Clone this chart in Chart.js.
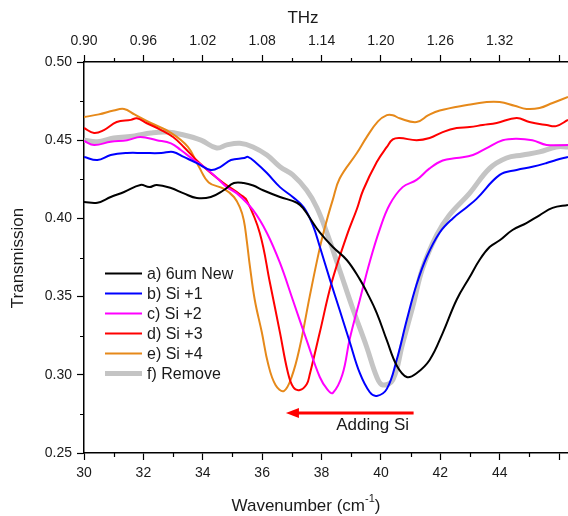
<!DOCTYPE html>
<html>
<head>
<meta charset="utf-8">
<script src="https://cdn.jsdelivr.net/npm/chart.js@4.4.1/dist/chart.umd.min.js"></script>
<style>
  html, body { margin: 0; padding: 0; background: #fff; }
  #wrap { width: 568px; height: 516px; }
</style>
</head>
<body>
<div id="wrap"><canvas id="chart" width="568" height="516"></canvas></div>
<script>
"use strict";

// tick values
var wavenumberTicks = [30, 31, 32, 33, 34, 35, 36, 37, 38, 39, 40, 41, 42, 43, 44, 45, 46];
var transmissionTicks = [0.25, 0.275, 0.30, 0.325, 0.35, 0.375, 0.40, 0.425, 0.45, 0.475, 0.50];
var thzTicks = [0.90, 0.93, 0.96, 0.99, 1.02, 1.05, 1.08, 1.11, 1.14, 1.17, 1.20, 1.23, 1.26, 1.29, 1.32, 1.35, 1.38];

var seriesLabels = ['a) 6um New', 'b) Si +1', 'c) Si +2', 'd) Si +3', 'e) Si +4', 'f) Remove'];

// a) 6um New
var blackX = [30, 30.45, 30.9, 31.35, 31.9, 32.2, 32.45, 32.93, 33.36, 33.8, 34.27, 34.7, 35.05, 35.38, 35.7, 36.03, 36.6, 37.17, 37.4, 37.65, 37.94, 38.38, 38.85, 39.29, 39.52, 39.86, 40.2, 40.53, 40.87, 41.2, 41.64, 42.08, 42.55, 42.99, 43.32, 43.66, 44.0, 44.43, 44.9, 45.34, 45.78, 46.3];
var blackY = [0.4105, 0.410, 0.4137, 0.4169, 0.4214, 0.420, 0.4214, 0.4194, 0.416, 0.413, 0.4137, 0.418, 0.4226, 0.4226, 0.421, 0.418, 0.4137, 0.410, 0.406, 0.399, 0.391, 0.3817, 0.3734, 0.361, 0.353, 0.3395, 0.322, 0.306, 0.2986, 0.301, 0.3095, 0.3267, 0.348, 0.3625, 0.3734, 0.3817, 0.386, 0.3926, 0.397, 0.402, 0.4067, 0.4086];

// b) Si +1
var blueX = [30, 30.45, 30.9, 31.45, 32.0, 32.6, 33.0, 33.36, 33.8, 34.27, 34.6, 34.95, 35.4, 35.52, 35.8, 36.16, 36.6, 37.03, 37.4, 37.7, 37.94, 38.28, 38.61, 38.95, 39.29, 39.62, 39.86, 40.2, 40.53, 40.87, 41.2, 41.54, 41.98, 42.42, 42.9, 43.22, 44.0, 44.57, 45.1, 45.58, 45.9, 46.3];
var blueY = [0.4393, 0.4373, 0.4405, 0.4418, 0.4418, 0.4418, 0.4425, 0.4393, 0.4354, 0.431, 0.433, 0.4373, 0.4386, 0.4393, 0.4354, 0.429, 0.420, 0.4137, 0.407, 0.396, 0.382, 0.361, 0.3414, 0.321, 0.301, 0.289, 0.2865, 0.291, 0.3095, 0.335, 0.3577, 0.3753, 0.391, 0.400, 0.4073, 0.4125, 0.4278, 0.431, 0.433, 0.4354, 0.4373, 0.4393];

// c) Si +2
var magentaX = [30, 30.34, 30.9, 31.45, 31.9, 32.45, 32.93, 33.26, 33.7, 34.04, 34.47, 34.81, 35.15, 35.69, 36.16, 36.6, 37.03, 37.5, 37.94, 38.2, 38.38, 38.7, 38.95, 39.29, 39.62, 39.96, 40.3, 40.73, 41.2, 41.64, 42.08, 42.55, 43.1, 43.56, 44.1, 44.57, 45.1, 45.58, 46.3];
var magentaY = [0.4495, 0.447, 0.449, 0.450, 0.452, 0.450, 0.448, 0.4437, 0.4373, 0.433, 0.426, 0.420, 0.416, 0.4054, 0.3907, 0.3715, 0.348, 0.322, 0.2986, 0.2905, 0.2884, 0.300, 0.323, 0.348, 0.372, 0.393, 0.409, 0.420, 0.4246, 0.432, 0.437, 0.4386, 0.4405, 0.445, 0.450, 0.451, 0.450, 0.447, 0.447];

// d) Si +3
var redX = [30, 30.34, 30.67, 31.1, 31.58, 31.78, 32.1, 32.6, 33.0, 33.36, 33.8, 34.27, 34.7, 35.28, 35.48, 35.92, 36.26, 36.6, 36.86, 37.05, 37.27, 37.5, 37.6, 37.94, 38.34, 38.85, 39.19, 39.4, 39.86, 40.2, 40.4, 40.63, 41.2, 41.64, 42.08, 42.55, 42.99, 43.43, 43.9, 44.57, 45.0, 45.58, 45.9, 46.3];
var redY = [0.4578, 0.4546, 0.4565, 0.4616, 0.463, 0.464, 0.461, 0.4565, 0.452, 0.4457, 0.437, 0.429, 0.4226, 0.415, 0.4115, 0.3907, 0.359, 0.327, 0.302, 0.292, 0.2903, 0.294, 0.300, 0.327, 0.359, 0.389, 0.406, 0.418, 0.436, 0.4457, 0.4505, 0.4514, 0.450, 0.4514, 0.4552, 0.4578, 0.4584, 0.4597, 0.461, 0.4642, 0.4616, 0.4597, 0.459, 0.463];

// e) Si +4
var orangeX = [30, 30.5, 31.0, 31.35, 31.7, 32.25, 32.9, 33.5, 33.87, 34.2, 34.7, 35.05, 35.25, 35.38, 35.48, 35.59, 35.75, 35.99, 36.2, 36.45, 36.73, 37.0, 37.27, 37.6, 37.94, 38.18, 38.38, 38.61, 39.19, 39.52, 39.9, 40.2, 40.4, 40.63, 41.2, 41.6, 41.98, 42.9, 43.56, 44.0, 44.5, 44.9, 45.34, 45.78, 46.3];
var orangeY = [0.4648, 0.4665, 0.469, 0.470, 0.4665, 0.461, 0.455, 0.4457, 0.433, 0.423, 0.419, 0.4137, 0.407, 0.399, 0.386, 0.369, 0.348, 0.327, 0.307, 0.2935, 0.2896, 0.299, 0.318, 0.350, 0.381, 0.399, 0.412, 0.4255, 0.4418, 0.452, 0.462, 0.466, 0.466, 0.464, 0.4616, 0.466, 0.469, 0.4725, 0.4744, 0.4744, 0.472, 0.470, 0.4706, 0.4738, 0.4776];

// f) Remove
var grayX = [30, 30.45, 31.0, 31.7, 32.25, 32.8, 33.36, 33.94, 34.47, 34.81, 35.25, 35.69, 36.16, 36.6, 37.03, 37.5, 37.84, 38.18, 38.61, 39.05, 39.52, 39.86, 40.06, 40.4, 40.73, 41.07, 41.4, 41.88, 42.3, 42.99, 43.66, 44.23, 44.77, 45.34, 45.9, 46.3];
var grayY = [0.450, 0.449, 0.4514, 0.4527, 0.4546, 0.4552, 0.4533, 0.450, 0.445, 0.447, 0.448, 0.4457, 0.4405, 0.433, 0.4278, 0.418, 0.407, 0.3907, 0.367, 0.3424, 0.3178, 0.2986, 0.2935, 0.2967, 0.320, 0.3434, 0.368, 0.3895, 0.402, 0.4162, 0.432, 0.4386, 0.4405, 0.4425, 0.4457, 0.4457];

// arrow annotation (wavenumber, transmission)
var arrowFrom = 41.1, arrowTo = 36.8, arrowY = 0.2756;
var noteText = 'Adding Si', noteX = 39.72, noteY = 0.268;

var xMin = 30, xMax = 46.3;
var thzAt30 = 0.90, thzPerCm = 0.03;

var FONT = '"Liberation Sans", Arial, sans-serif';
var TXT = '#1a1a1a';

function pts(xs, ys) {
    return xs.map(function (x, i) { return { x: x, y: ys[i] }; });
}

function isMajorX(v) { return Math.round(v) % 2 === 0; }
function isMajorY(v) { return Math.round(v * 1000) % 50 === 0; }
function isMajorThz(v) { return Math.round((v - thzAt30) / 0.03) % 2 === 0; }

var seriesData = [pts(blackX, blackY), pts(blueX, blueY), pts(magentaX, magentaY),
                  pts(redX, redY), pts(orangeX, orangeY), pts(grayX, grayY)];
var seriesColors = ['#000000', '#0000ff', '#ff00ff', '#ff0000', '#e6891a', '#c4c4c4'];
var seriesWidths = [2, 2, 2, 2, 2, 5];

var datasets = seriesLabels.map(function (lab, i) {
    return {
        label: lab,
        data: seriesData[i],
        borderColor: seriesColors[i],
        backgroundColor: seriesColors[i],
        borderWidth: seriesWidths[i],
        pointRadius: 0,
        fill: false,
        tension: 0.4
    };
});

var decor = {
    id: 'decor',
    afterDraw: function (chart) {
        var ctx = chart.ctx;
        var xs = chart.scales.x, ys = chart.scales.y, ts = chart.scales.x2;
        var area = chart.chartArea;
        ctx.save();

        // minor ticks
        ctx.strokeStyle = '#000';
        ctx.lineWidth = 1.2;
        ctx.beginPath();
        wavenumberTicks.forEach(function (v) {
            if (isMajorX(v)) return;
            var px = Math.round(xs.getPixelForValue(v)) + 0.5;
            ctx.moveTo(px, area.bottom); ctx.lineTo(px, area.bottom + 4);
        });
        thzTicks.forEach(function (v) {
            if (isMajorThz(v)) return;
            var px = Math.round(ts.getPixelForValue(v)) + 0.5;
            ctx.moveTo(px, area.top); ctx.lineTo(px, area.top - 4);
        });
        transmissionTicks.forEach(function (v) {
            if (isMajorY(v)) return;
            var py = Math.round(ys.getPixelForValue(v)) + 0.5;
            ctx.moveTo(area.left, py); ctx.lineTo(area.left - 4, py);
        });
        ctx.stroke();

        // legend inside the plot
        ctx.font = '16px ' + FONT;
        ctx.textBaseline = 'middle';
        ctx.textAlign = 'left';
        seriesLabels.forEach(function (lab, i) {
            var y = 273.5 + i * 20;
            ctx.strokeStyle = seriesColors[i];
            ctx.lineWidth = seriesWidths[i];
            ctx.beginPath();
            ctx.moveTo(area.left + 21, y);
            ctx.lineTo(area.left + 58, y);
            ctx.stroke();
            ctx.fillStyle = TXT;
            ctx.fillText(lab, area.left + 63, y + 1);
        });

        // arrow
        var ax1 = xs.getPixelForValue(arrowFrom);
        var ax2 = xs.getPixelForValue(arrowTo);
        var ay = ys.getPixelForValue(arrowY);
        ctx.strokeStyle = '#ff0000';
        ctx.fillStyle = '#ff0000';
        ctx.lineWidth = 3;
        ctx.beginPath();
        ctx.moveTo(ax1, ay);
        ctx.lineTo(ax2 + 10, ay);
        ctx.stroke();
        ctx.beginPath();
        ctx.moveTo(ax2, ay);
        ctx.lineTo(ax2 + 13, ay - 5);
        ctx.lineTo(ax2 + 13, ay + 5);
        ctx.closePath();
        ctx.fill();

        ctx.fillStyle = TXT;
        ctx.font = '17px ' + FONT;
        ctx.textAlign = 'center';
        ctx.fillText(noteText, xs.getPixelForValue(noteX), ys.getPixelForValue(noteY));

        // axis titles
        ctx.font = '17px ' + FONT;
        ctx.fillText('THz', 303, 18);

        var p1 = 'Wavenumber (cm', p2 = '-1', p3 = ')';
        var w1 = ctx.measureText(p1).width;
        var w3 = ctx.measureText(p3).width;
        ctx.font = '11px ' + FONT;
        var w2 = ctx.measureText(p2).width;
        var sx = 306 - (w1 + w2 + w3) / 2;
        ctx.textAlign = 'left';
        ctx.font = '17px ' + FONT;
        ctx.fillText(p1, sx, 506);
        ctx.font = '11px ' + FONT;
        ctx.fillText(p2, sx + w1, 499);
        ctx.font = '17px ' + FONT;
        ctx.fillText(p3, sx + w1 + w2, 506);

        ctx.translate(18, 258);
        ctx.rotate(-Math.PI / 2);
        ctx.textAlign = 'center';
        ctx.fillText('Transmission', 0, 0);
        ctx.restore();
    }
};

function tickGrid(isMajor) {
    return {
        drawOnChartArea: false,
        drawTicks: true,
        tickLength: 7,
        tickWidth: 1.2,
        tickColor: function (c) { return (c.tick && isMajor(c.tick.value)) ? '#000' : 'rgba(0,0,0,0)'; }
    };
}

var ctx = document.getElementById('chart').getContext('2d');
var myChart = new Chart(ctx, {
    type: 'line',
    data: { datasets: datasets },
    options: {
        responsive: false,
        animation: false,
        devicePixelRatio: 1,
        layout: { padding: 0 },
        plugins: {
            legend: { display: false },
            tooltip: { enabled: false }
        },
        scales: {
            x: {
                type: 'linear',
                position: 'bottom',
                min: xMin,
                max: xMax,
                afterBuildTicks: function (s) { s.ticks = wavenumberTicks.map(function (v) { return { value: v }; }); },
                afterFit: function (s) { s.height = 63; s.paddingLeft = 0; s.paddingRight = 0; },
                ticks: {
                    autoSkip: false, maxRotation: 0, padding: 5, color: TXT,
                    font: { family: FONT, size: 14 },
                    callback: function (v) { return (isMajorX(v) && v <= 44) ? String(v) : ''; }
                },
                grid: tickGrid(isMajorX),
                border: { color: '#000', width: 1.5 }
            },
            x2: {
                type: 'linear',
                position: 'top',
                min: thzAt30,
                max: thzAt30 + (xMax - xMin) * thzPerCm,
                afterBuildTicks: function (s) { s.ticks = thzTicks.map(function (v) { return { value: v }; }); },
                afterFit: function (s) { s.height = 62; s.paddingLeft = 0; s.paddingRight = 0; },
                ticks: {
                    autoSkip: false, maxRotation: 0, padding: 5, color: TXT,
                    font: { family: FONT, size: 14 },
                    callback: function (v) { return (isMajorThz(v) && v <= 1.325) ? v.toFixed(2) : ''; }
                },
                grid: tickGrid(isMajorThz),
                border: { color: '#000', width: 1.5 }
            },
            y: {
                type: 'linear',
                min: 0.25,
                max: 0.50,
                afterBuildTicks: function (s) { s.ticks = transmissionTicks.map(function (v) { return { value: v }; }); },
                afterFit: function (s) { s.width = 84; },
                ticks: {
                    autoSkip: false, padding: 5, color: TXT,
                    font: { family: FONT, size: 14 },
                    callback: function (v) { return isMajorY(v) ? v.toFixed(2) : ''; }
                },
                grid: tickGrid(isMajorY),
                border: { color: '#000', width: 1.5 }
            }
        }
    },
    plugins: [decor]
});
</script>
</body>
</html>
